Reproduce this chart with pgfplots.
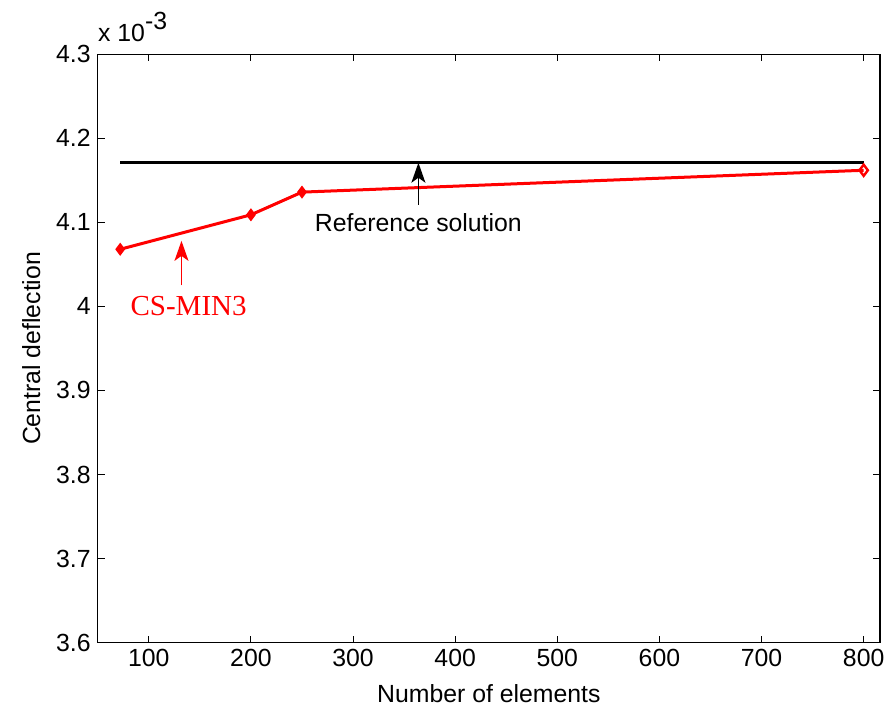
\documentclass[border=0pt]{standalone}
\usepackage{pgfplots}
\pgfplotsset{compat=1.18}
\usepackage{fontspec}
\setmainfont{Liberation Sans}
\newfontfamily\timesfont{Liberation Serif}
\usetikzlibrary{arrows.meta}

\begin{document}
\begin{tikzpicture}
\begin{axis}[
  scale only axis,
  width=391pt, height=294pt,
  xmin=50, xmax=816,
  ymin=3.6, ymax=4.3,
  xtick={100,200,...,800},
  ytick={3.6,3.7,3.8,3.9,4.0,4.1,4.2,4.3},
  yticklabels={3.6,3.7,3.8,3.9,4,4.1,4.2,4.3},
  tick pos=both, tick align=inside,
  major tick length=3.5pt,
  axis line style={line width=0.6pt},
  every tick/.style={black, line width=0.5pt},
  font=\fontsize{12.4}{14}\selectfont,
  /pgf/number format/assume math mode=true,
  xlabel={Number of elements},
  ylabel={Central deflection},
  xlabel shift=2pt,
  ylabel shift=1pt,
  clip=false,
]

% Referenzloesung
\addplot[black, line width=1.5pt] coordinates {(72,4.171) (800,4.171)};

% CS-MIN3
\addplot[red, line width=1.5pt, mark=diamond*, mark size=2.8pt,
  mark indices={1,2,3}, mark options={solid, line width=0.6pt}]
  coordinates {(72,4.068) (200,4.109) (250,4.136) (800,4.162)};
\addplot[red, only marks, mark=diamond, mark size=2.8pt,
  mark options={line width=1.2pt}] coordinates {(800,4.162)};

% Pfeile und Beschriftungen
\draw[black, line width=0.8pt, -{Stealth[length=10pt, width=7pt, inset=2.5pt]}]
  (axis cs:364,4.121) -- (axis cs:364,4.171);
\node[black] at (axis cs:364,4.100) {Reference solution};

\draw[red, line width=0.8pt, -{Stealth[length=10pt, width=7pt, inset=2.5pt]}]
  (axis cs:132,4.025) -- (axis cs:132,4.078);
\node[red, font=\timesfont\fontsize{14.5}{16}\selectfont] at (axis cs:139,4.001) {CS-MIN3};

% Faktor
\node[anchor=south west, inner sep=0pt] at ([yshift=6pt]rel axis cs:0,1)
  {x 10\raisebox{0.5em}{-3}};

\end{axis}
\pgfresetboundingbox
\path[use as bounding box] ([xshift=-48.85pt, yshift=-34pt]current axis.south west)
  rectangle ([xshift=2pt, yshift=27.15pt]current axis.north east);
\end{tikzpicture}
\end{document}
